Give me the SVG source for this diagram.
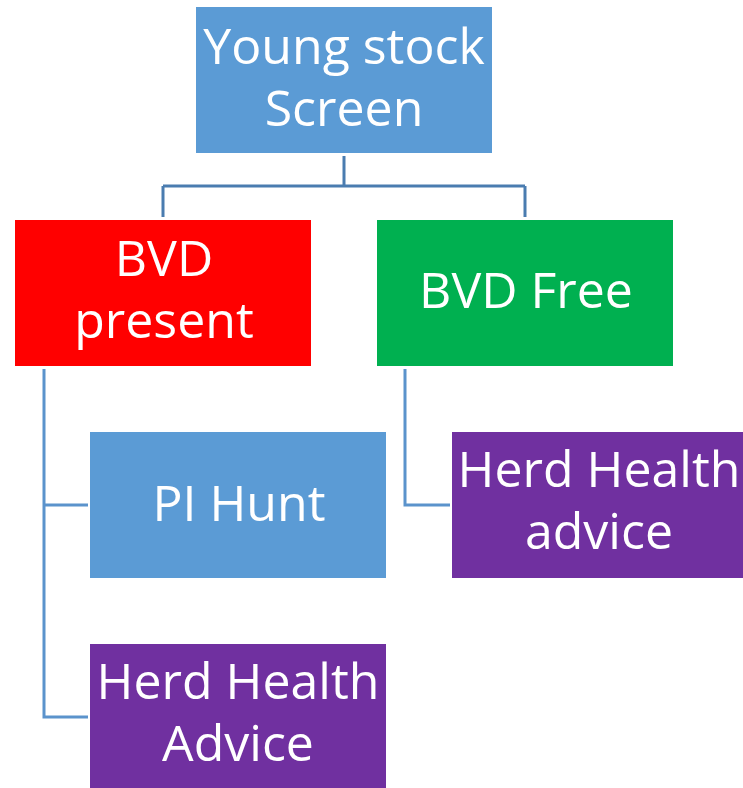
<svg xmlns="http://www.w3.org/2000/svg" width="743" height="788" viewBox="0 0 743 788">
<style>
.t{font-family:"Open Sans","Noto Sans",sans-serif;font-size:50px;fill:#ffffff;text-anchor:middle}
.c1{fill:none;stroke:#4a7cb0;stroke-width:3}
.c2{fill:none;stroke:#5b93cc;stroke-width:3}
</style>
<rect width="743" height="788" fill="#ffffff"/>
<g id="connectors">
<path class="c1" d="M344,156 V186 M163,186 H525 M163,186 V217 M525,186 V217"/>
<path class="c2" d="M44,369 V717 H88 M44,505 H88"/>
<path class="c2" d="M405,369 V505 H450"/>
</g>
<g id="young-stock-screen">
<rect x="196" y="7" width="296" height="146" fill="#5b9bd5"/>
<text class="t" x="344" y="64">Young stock</text>
<text class="t" x="344" y="126">Screen</text>
</g>
<g id="bvd-present">
<rect x="15" y="220" width="296" height="146" fill="#ff0000"/>
<text class="t" x="164" y="276">BVD</text>
<text class="t" x="164" y="338">present</text>
</g>
<g id="bvd-free">
<rect x="377" y="220" width="296" height="146" fill="#00b050"/>
<text class="t" x="526" y="308">BVD Free</text>
</g>
<g id="pi-hunt">
<rect x="90" y="432" width="296" height="146" fill="#5b9bd5"/>
<text class="t" x="239" y="521">PI Hunt</text>
</g>
<g id="herd-health-advice-right">
<rect x="452" y="432" width="296" height="146" fill="#7030a0"/>
<text class="t" x="599" y="487">Herd Health</text>
<text class="t" x="599" y="549">advice</text>
</g>
<g id="herd-health-advice-left">
<rect x="90" y="644" width="296" height="146" fill="#7030a0"/>
<text class="t" x="238" y="699">Herd Health</text>
<text class="t" x="238" y="761">Advice</text>
</g>
</svg>
